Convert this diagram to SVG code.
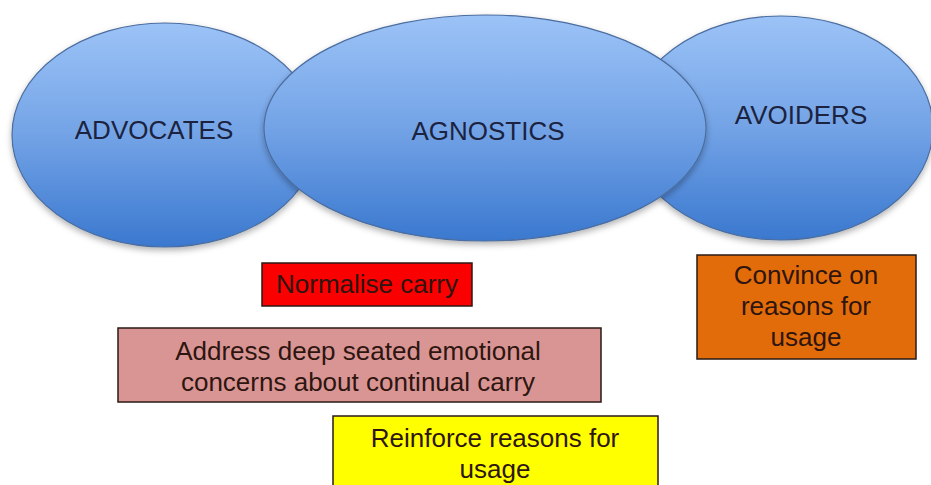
<svg xmlns="http://www.w3.org/2000/svg" width="931" height="485" viewBox="0 0 931 485">
  <defs>
    <linearGradient id="blueFill" x1="0" y1="0" x2="0" y2="1">
      <stop offset="0" stop-color="#9cc3f7"/>
      <stop offset="0.5" stop-color="#73a3e6"/>
      <stop offset="1" stop-color="#3a78cf"/>
    </linearGradient>
    <filter id="softShadow" x="-10%" y="-10%" width="120%" height="125%">
      <feDropShadow dx="0" dy="3" stdDeviation="3" flood-color="#000" flood-opacity="0.3"/>
    </filter>
  </defs>
  <style>
    .group { fill: url(#blueFill); stroke: #4b6d9f; stroke-width: 1.2; filter: url(#softShadow); }
    .group-label { font-family: "Liberation Sans", Arial, sans-serif; font-size: 26px; fill: #1b2340; text-anchor: middle; }
    .box { stroke: #2a1a14; stroke-width: 1.5; }
    .box-label { font-family: "Liberation Sans", Arial, sans-serif; font-size: 26px; fill: #2e1510; text-anchor: middle; }
  </style>
  <rect width="931" height="485" fill="#ffffff"/>

  <!-- audience groups (agnostics drawn last, overlapping both neighbours) -->
  <g id="advocates">
    <ellipse class="group" cx="165" cy="135" rx="153" ry="112"/>
    <text class="group-label" x="154" y="139">ADVOCATES</text>
  </g>
  <g id="avoiders">
    <ellipse class="group" cx="781" cy="128" rx="152" ry="112"/>
    <text class="group-label" x="801" y="124">AVOIDERS</text>
  </g>
  <g id="agnostics">
    <ellipse class="group" cx="485" cy="128" rx="221" ry="113"/>
    <text class="group-label" x="488" y="140">AGNOSTICS</text>
  </g>

  <!-- actions for each group -->
  <g id="normalise-carry">
    <rect class="box" x="262" y="263" width="210" height="43" fill="#fa0000"/>
    <text class="box-label" x="367" y="293">Normalise carry</text>
  </g>
  <g id="address-concerns">
    <rect class="box" x="118" y="328" width="483" height="74" fill="#d99594"/>
    <text class="box-label" x="358" y="360">Address deep seated emotional</text>
    <text class="box-label" x="358" y="391">concerns about continual carry</text>
  </g>
  <g id="reinforce-reasons">
    <rect class="box" x="333" y="416" width="325" height="75" fill="#ffff00"/>
    <text class="box-label" x="495" y="447">Reinforce reasons for</text>
    <text class="box-label" x="495" y="478">usage</text>
  </g>
  <g id="convince-reasons">
    <rect class="box" x="697" y="255" width="219" height="104" fill="#e36c0a"/>
    <text class="box-label" x="806" y="284">Convince on</text>
    <text class="box-label" x="806" y="315">reasons for</text>
    <text class="box-label" x="806" y="346">usage</text>
  </g>

  <!-- no connectors in this diagram -->
  <g id="connectors"/>
</svg>
